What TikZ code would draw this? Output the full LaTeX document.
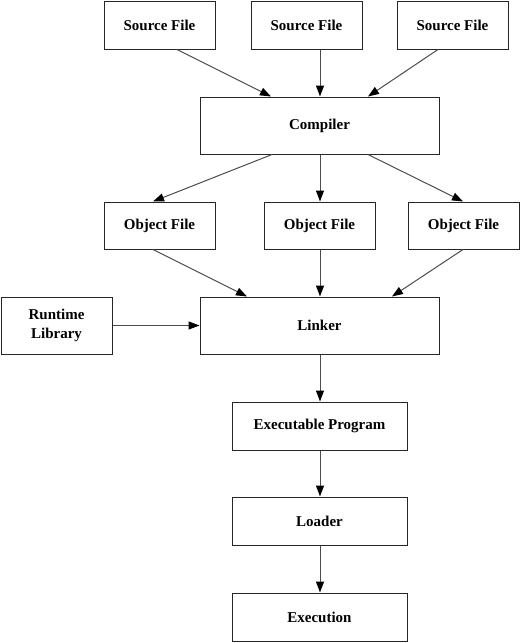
\documentclass[tikz,border=0pt]{standalone}
\usepackage{fontspec}
\setmainfont{Liberation Serif}
\usetikzlibrary{arrows.meta,calc}
\begin{document}
\begin{tikzpicture}[x=1pt,y=-1pt,
  box/.style={draw=black!85,line width=1pt,fill=white,inner sep=0pt,font=\fontsize{15}{19}\selectfont\bfseries,align=center},
  sbox/.style={box,minimum width=111pt,minimum height=48pt},
  wbox/.style={box,minimum width=239pt,minimum height=57pt},
  mbox/.style={box,minimum width=175pt,minimum height=48pt},
  edge/.style={draw=black!70,line width=1pt,-{Triangle[length=11pt,width=8pt,color=black]}}]
\useasboundingbox (0,0) rectangle (520,643);
\node[sbox] (sf1) at (159.5,25) {Source File};
\node[sbox] (sf2) at (306.5,25) {Source File};
\node[sbox] (sf3) at (452.5,25) {Source File};
\node[wbox] (comp) at (319.5,125.5) {Compiler};
\node[sbox,minimum height=47pt] (of1) at (159.5,225.5) {Object File};
\node[sbox,minimum height=47pt] (of2) at (319.5,225.5) {Object File};
\node[sbox,minimum height=47pt] (of3) at (463.5,225.5) {Object File};
\node[sbox,minimum height=57pt] (rt) at (56.5,325.5) {Runtime\\Library};
\node[wbox] (link) at (319.5,325.5) {Linker};
\node[mbox] (exe) at (319.5,426) {Executable Program};
\node[mbox] (load) at (319.5,521) {Loader};
\node[mbox] (exec) at (319.5,617) {Execution};
\draw[edge] ($(sf1.south)+(17.5,0)$) -- ($(comp.north)+(-48.5,0)$);
\draw[edge] ($(sf2.south)+(13.5,0)$) -- ($(comp.north)+(0.5,0)$);
\draw[edge] ($(sf3.south)+(-14.5,0)$) -- ($(comp.north)+(48.5,0)$);
\draw[edge] ($(comp.south)+(-47.5,0)$) -- ($(of1.north)+(-6.5,0)$);
\draw[edge] ($(comp.south)+(0.5,0)$) -- ($(of2.north)+(0.5,0)$);
\draw[edge] ($(comp.south)+(48.5,0)$) -- ($(of3.north)+(-0.5,0)$);
\draw[edge] ($(of1.south)+(-6.5,0)$) -- ($(link.north)+(-72.5,0)$);
\draw[edge] ($(of2.south)+(0.5,0)$) -- ($(link.north)+(0.5,0)$);
\draw[edge] ($(of3.south)+(-0.5,0)$) -- ($(link.north)+(72.5,0)$);
\draw[edge] (rt.east) -- (link.west);
\draw[edge] ($(link.south)+(0.5,0)$) -- ($(exe.north)+(0.5,0)$);
\draw[edge] ($(exe.south)+(0.5,0)$) -- ($(load.north)+(0.5,0)$);
\draw[edge] ($(load.south)+(0.5,0)$) -- ($(exec.north)+(0.5,0)$);
\end{tikzpicture}
\end{document}
